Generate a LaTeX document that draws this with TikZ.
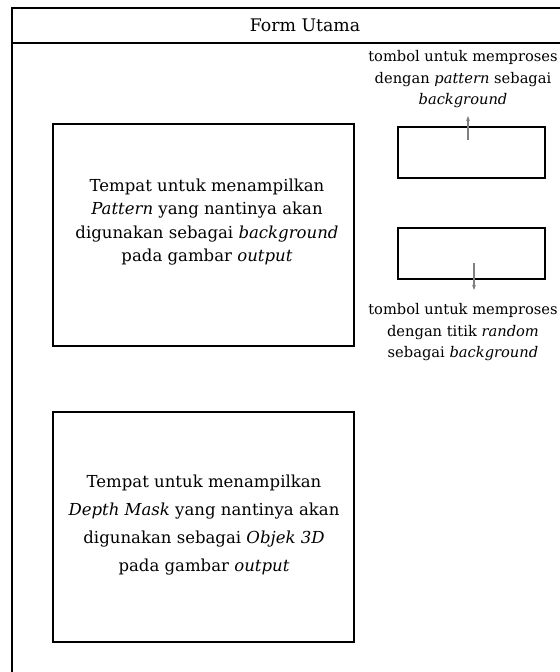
\documentclass[tikz,border=0pt]{standalone}
\usepackage{fontspec}
\setmainfont{DejaVu Serif}
\usetikzlibrary{arrows.meta,positioning}

\begin{document}
\begin{tikzpicture}[
    x=0.75pt, y=-0.75pt,
    >={Stealth[length=4pt,width=3pt]},
    frame/.style={line width=1.7pt},
    panel/.style={draw, line width=1.7pt, minimum width=225.5pt, minimum height=#1},
    panel/.default=166.5pt,
    tombol/.style={draw, line width=1.7pt, minimum width=110pt, minimum height=38pt},
    isi/.style={align=center, font=\fontsize{12.4}{17.6}\selectfont},
    ket/.style={align=center, font=\fontsize{11}{16}\selectfont},
    arr/.style={->, gray, line width=0.8pt},
]
\useasboundingbox (0,0) rectangle (560,672);

% --- Frame form ---
\draw[frame] (12,700) |- (620,8);
\draw[frame] (12,43) -- (620,43);
\node[font=\fontsize{13}{15}\selectfont] (judul) at (305,25) {Form Utama};

% --- Panels ---
\node[panel] (pola) at (203.5,235) {};
\node[panel=172.5pt, below=48pt of pola.south, anchor=north] (depth) {};
\node[isi] (teksPola) at (207,222) {Tempat untuk menampilkan\\\textit{Pattern} yang nantinya akan\\digunakan sebagai \textit{background}\\pada gambar \textit{output}};
\node[isi, font=\fontsize{12.4}{21}\selectfont] (teksDepth) at (204,525) {Tempat untuk menampilkan\\\textit{Depth Mask} yang nantinya akan\\digunakan sebagai \textit{Objek 3D}\\pada gambar \textit{output}};

% --- Tombol ---
\node[tombol] (btnPola) at (471.5,152.5) {};
\node[tombol, below=36pt of btnPola] (btnRandom) {};

% --- Keterangan ---
\node[ket, anchor=south, inner sep=6pt] (ketPola) at (463,116) {tombol untuk memproses\\dengan \textit{pattern} sebagai\\\textit{background}};
\node[ket, anchor=north, inner sep=10pt] (ketRandom) at (463,290) {tombol untuk memproses\\dengan titik \textit{random}\\sebagai \textit{background}};

% --- Panah ---
\coordinate (ekorPola) at (468,140);
\coordinate (ekorRandom) at (474,263);
\draw[arr] (ekorPola) -- (ekorPola |- ketPola.south);
\draw[arr] (ekorRandom) -- (ekorRandom |- ketRandom.north);

\end{tikzpicture}
\end{document}
